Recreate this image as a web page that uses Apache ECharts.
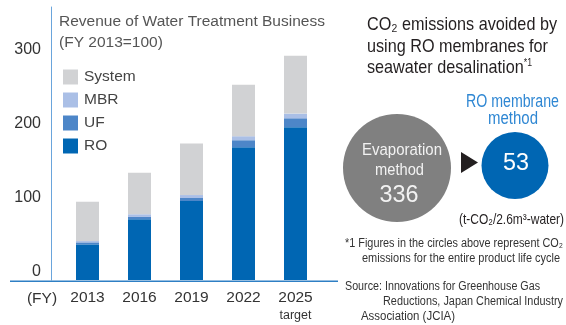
<!DOCTYPE html>
<html><head><meta charset="utf-8">
<script src="https://cdn.jsdelivr.net/npm/echarts@6/dist/echarts.min.js"></script>
<style>html,body{margin:0;padding:0;background:#fff}#c{width:566px;height:325px}</style>
</head><body><div id="c"></div>
<script>
// ---- data ----
const years = ['2013', '2016', '2019', '2022', '2025'];
const roValues = [48, 82, 106.5, 179, 206];
const ufValues = [2.7, 3, 4, 9.4, 12];
const mbrValues = [1.8, 3.6, 4, 5.4, 6.3];
const systemValues = [53, 56, 69.4, 69.4, 78];
const yTicks = [0, 100, 200, 300];
const seriesNames = ['RO', 'UF', 'MBR', 'System'];
const legendOrder = ['System', 'MBR', 'UF', 'RO'];
const co2Methods = ['Evaporation', 'RO membrane'];
const co2Values = [336, 53];

const FONT = '"Liberation Sans", Arial, sans-serif';
const colors = { RO: '#0066b3', UF: '#4d86c8', MBR: '#aabfe6', System: '#d1d2d4' };

const mctx = document.createElement('canvas').getContext('2d');
function fitScale(text, size, width) {
  mctx.font = size + 'px ' + FONT;
  return width / mctx.measureText(text).width;
}
function txt(x, y, text, size, width, color, align, scale) {
  const s = scale != null ? scale : fitScale(text, size, width);
  return {
    type: 'text', x: x, y: y, scaleX: s, z: 10,
    style: { text: text, fill: color, font: size + 'px ' + FONT,
      align: align || 'left', textAlign: align || 'left',
      verticalAlign: 'middle', textVerticalAlign: 'middle' }
  };
}

const titleScale = fitScale('CO\u2082 emissions avoided by', 18.5, 190);

const chart = echarts.init(document.getElementById('c'), null, { renderer: 'canvas' });
const valuesByName = { RO: roValues, UF: ufValues, MBR: mbrValues, System: systemValues };

chart.setOption({
  animation: false,
  title: {
    text: 'Revenue of Water Treatment Business\n(FY 2013=100)',
    left: 59, top: 11, padding: 0,
    textStyle: { fontFamily: FONT, fontSize: 15.5, lineHeight: 21, color: '#555', fontWeight: 'normal' }
  },
  legend: {
    data: legendOrder, orient: 'vertical', left: 63, top: 69, padding: 0,
    itemWidth: 15, itemHeight: 15, itemGap: 7, icon: 'rect',
    textStyle: { fontFamily: FONT, fontSize: 15.5, lineHeight: 15, color: '#444', padding: [0, 0, 0, 1] }
  },
  grid: { left: 61.5, right: 244.5, top: 7, bottom: 44 },
  xAxis: {
    type: 'category', data: years,
    axisLine: { show: false }, axisTick: { show: false },
    axisLabel: {
      interval: 0, margin: 9, fontFamily: FONT, fontSize: 15.5, lineHeight: 18, color: '#333',
      formatter: v => v === '2025' ? '2025\n{t|target}' : v,
      rich: { t: { fontFamily: FONT, fontSize: 12.5, lineHeight: 18, color: '#333' } }
    }
  },
  yAxis: {
    type: 'value', min: 0, max: 368, interval: 100, offset: 10.5,
    axisLine: { show: true, lineStyle: { color: '#6aa5dc', width: 1 } },
    axisTick: { show: false }, splitLine: { show: false },
    axisLabel: {
      showMaxLabel: false, margin: 10, fontFamily: FONT, fontSize: 16, color: '#333',
      verticalAlign: 'bottom', lineHeight: 16,
      formatter: v => yTicks.indexOf(v) >= 0 ? String(v) : ''
    }
  },
  series: seriesNames.map(n => ({
    name: n, type: 'bar', stack: 'total', barWidth: 23,
    itemStyle: { color: colors[n] }, data: valuesByName[n]
  })),
  graphic: [
    { type: 'line', shape: { x1: 10, y1: 281.25, x2: 338, y2: 281.25 }, style: { stroke: '#2e7fc4', lineWidth: 1.5 }, z: 10 },
    txt(42, 299, '(FY)', 15.5, 0, '#333', 'center', 1),
    // right panel
    txt(367, 25, 'CO\u2082 emissions avoided by', 18.5, 0, '#231f20', 'left', titleScale),
    txt(367, 47, 'using RO membranes for', 18.5, 0, '#231f20', 'left', titleScale),
    {
      type: 'text', x: 367, y: 68, scaleX: titleScale, z: 10,
      style: { text: 'seawater desalination{s|*1}', fill: '#231f20', font: '18.5px ' + FONT,
        align: 'left', textAlign: 'left', verticalAlign: 'middle', textVerticalAlign: 'middle',
        rich: { s: { fontSize: 10, fontFamily: FONT, verticalAlign: 'top', fill: '#231f20', lineHeight: 18 } } }
    },
    { type: 'circle', shape: { cx: 397, cy: 168, r: 54 }, style: { fill: '#808080' } },
    { type: 'circle', shape: { cx: 515, cy: 165.5, r: 33.5 }, style: { fill: '#0066b3' } },
    { type: 'polygon', shape: { points: [[461, 152], [478, 162.5], [461, 173]] }, style: { fill: '#231f20' } },
    txt(512.5, 102, co2Methods[1], 17.5, 93, '#2f87d3', 'center'),
    txt(513, 119, 'method', 17.5, 50, '#2f87d3', 'center'),
    txt(402, 150, co2Methods[0], 17, 80, '#f2f2f2', 'center'),
    txt(399.5, 170, 'method', 17, 49, '#f2f2f2', 'center'),
    txt(399, 195, String(co2Values[0]), 24, 39, '#f2f2f2', 'center'),
    txt(516, 163, String(co2Values[1]), 24, 26, '#ffffff', 'center'),
    txt(459, 220, '(t-CO\u2082/2.6m\u00b3-water)', 15, 105, '#231f20', 'left'),
    txt(345, 244, '*1 Figures in the circles above represent CO\u2082', 12.5, 218, '#333', 'left'),
    txt(362, 259, 'emissions for the entire product life cycle', 12.5, 198, '#333', 'left'),
    txt(345, 286.5, 'Source: Innovations for Greenhouse Gas', 12.5, 195, '#333', 'left'),
    txt(383, 301.5, 'Reductions, Japan Chemical Industry', 12.5, 180, '#333', 'left'),
    txt(361, 316.5, 'Association (JCIA)', 12.5, 94, '#333', 'left')
  ]
});
</script>
</body></html>
